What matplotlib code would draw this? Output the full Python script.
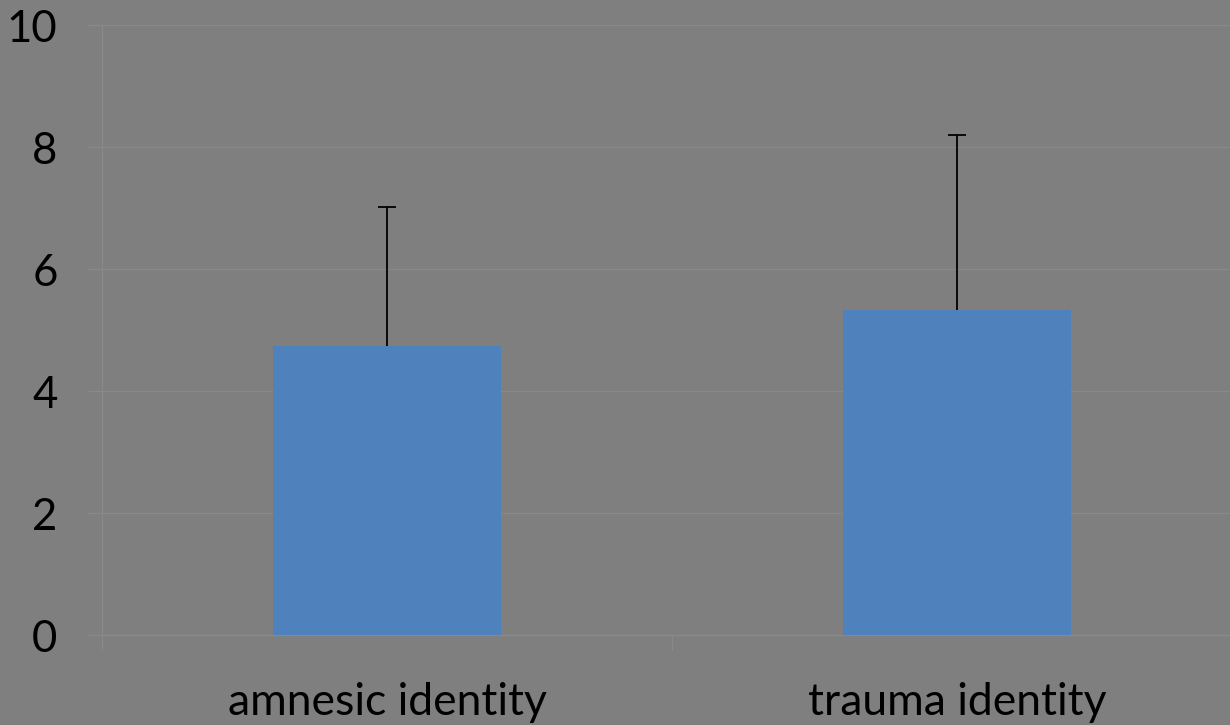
import numpy as np
import matplotlib.pyplot as plt

labels = ['amnesic identity', 'trauma identity']
means = [4.74, 5.32]
err_up = [2.28, 2.88]

plt.rcParams['font.family'] = ['Lato', 'DejaVu Sans']

bg = '#7f7f7f'
grid = '#898989'

fig = plt.figure(figsize=(12.3, 7.25), dpi=100, facecolor=bg)
ax = fig.add_axes([102/1230, 1-635/725, 1140/1230, 610/725], facecolor=bg)

x = np.arange(len(labels))
ax.bar(x, means, 0.4, color='#4f81bd', zorder=3)
eb = ax.errorbar(x, means, yerr=[np.zeros(len(means)), err_up], fmt='none',
                 ecolor='black', elinewidth=1.3, capsize=6.5, capthick=1.3, zorder=4)
# only the upper cap is shown
eb[1][0].set_visible(False)

ax.set_xlim(-0.5, len(labels) - 0.5)
ax.set_ylim(0, 10)
ax.set_yticks(np.arange(0, 11, 2))
ax.yaxis.grid(True, color=grid, linewidth=1, zorder=0)

for s in ['top', 'right']:
    ax.spines[s].set_visible(False)
for s in ['left', 'bottom']:
    ax.spines[s].set_color(grid)
    ax.spines[s].set_linewidth(1)

ax.tick_params(axis='y', length=11, width=1, color=grid, pad=21,
               labelsize=31.5, labelcolor='black')
ax.set_xticks(x)
ax.set_xticklabels(labels)
ax.set_xticks(np.arange(-0.5, len(labels)), minor=True)
ax.tick_params(axis='x', which='major', length=0, pad=34,
               labelsize=32, labelcolor='black')
ax.tick_params(axis='x', which='minor', length=11, width=1, color=grid)

fig.savefig('out.png', dpi=100, facecolor=bg)
